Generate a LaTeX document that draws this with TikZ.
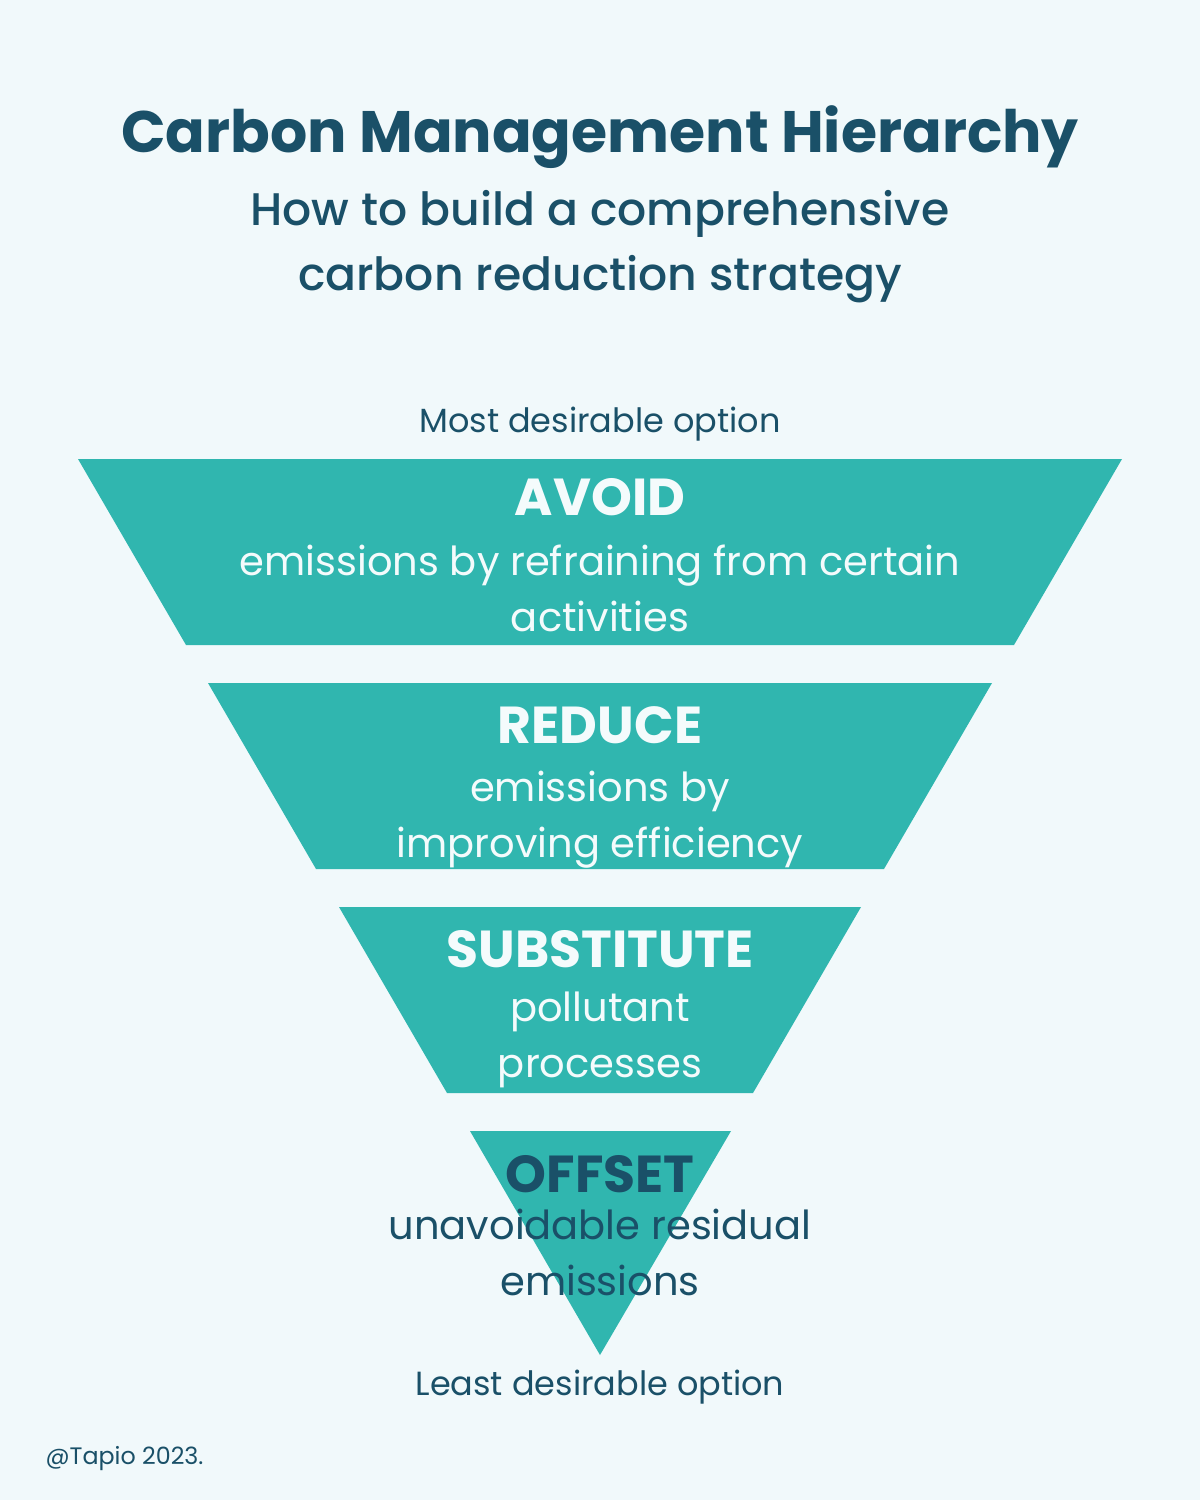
\documentclass[tikz,border=0pt]{standalone}
\usepackage{fontspec}
\setmainfont{Poppins}
\newfontfamily\mediumfont{Poppins Medium}
\usetikzlibrary{calc}

\definecolor{paper}{HTML}{F1F9FB}
\definecolor{tealfill}{HTML}{30B6AF}
\definecolor{ink}{HTML}{1A5068}
\definecolor{chalk}{HTML}{F4FBFC}

\begin{document}
\begin{tikzpicture}[x=1pt, y=-1pt,
	tier/.style = {fill=tealfill},
	head/.style = {anchor=base, font=\fontsize{52}{52}\selectfont\bfseries},
	body/.style = {anchor=base, align=center, font=\fontsize{40}{56}\selectfont},
	note/.style = {anchor=base, text=ink, font=\fontsize{33.5}{33.5}\selectfont}]
	\def\slope{108};

	\fill[paper] (0,0) rectangle (1200,1500);
	\useasboundingbox (0,0) rectangle (1200,1500);

	% the four tiers
	\fill[tier] (78,459) -- (1122,459) -- ++(-\slope,186) -- (186,645) -- cycle;
	\fill[tier] (208,683) -- (992,683) -- ++(-\slope,186) -- (316,869) -- cycle;
	\fill[tier] (339,907) -- (861,907) -- ++(-\slope,186) -- (447,1093) -- cycle;
	\fill[tier] (470,1131) -- (731,1131) -- (600,1355) -- cycle;

	% headings (base of a two-line node is its last line)
	\node (title) [anchor=base, text=ink, font=\fontsize{58.5}{58.5}\selectfont\bfseries] at (600,152) {Carbon Management Hierarchy};
	\node (subtitle) [anchor=base, align=center, text=ink, font=\fontsize{45.7}{65}\mediumfont] at (600,290) {How to build a comprehensive\\carbon reduction strategy};
	\node (most) [note] at (600,432) {Most desirable option};
	\node (least) [note] at (600,1395) {Least desirable option};

	% tier texts
	\node (avoid) [head, text=chalk] at (600,515) {AVOID};
	\node (avoidtext) [body, text=chalk] at (600,631) {emissions by refraining from certain\\activities};
	\node (reduce) [head, text=chalk] at (600,743) {REDUCE};
	\node (reducetext) [body, text=chalk] at (600,857) {emissions by\\improving efficiency};
	\node (substitute) [head, text=chalk] at (600,967) {SUBSTITUTE};
	\node (substitutetext) [body, text=chalk] at (600,1077) {pollutant\\processes};
	\node (offset) [head, text=ink] at (600,1192) {OFFSET};
	\node (offsettext) [body, text=ink] at (600,1295) {unavoidable residual\\emissions};

	\node (credit) [anchor=base west, text=ink, font=\fontsize{23.8}{23.8}\selectfont] at (42,1464) {@Tapio 2023.};
\end{tikzpicture}
\end{document}
